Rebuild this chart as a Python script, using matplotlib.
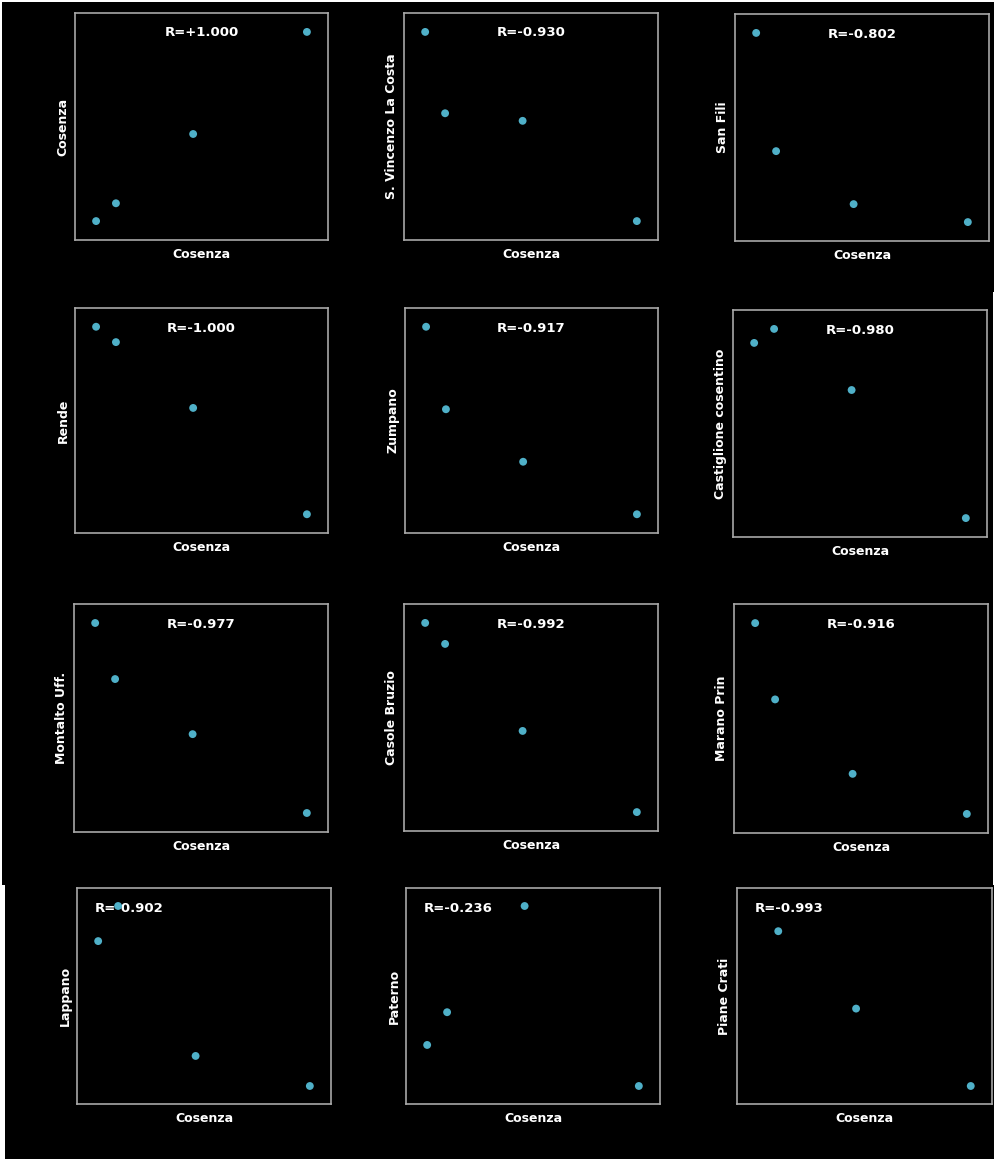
import numpy as np
import matplotlib
matplotlib.use("Agg")
import matplotlib.pyplot as plt
from matplotlib.patches import Rectangle

W, H = 995, 1159

# Cosenza resident population at four censuses (2011, 2001, 1991, 1981)
cosenza = [69484, 72998, 86664, 106801]

# Neighbouring towns: relative level at the same censuses (0 = lowest, 1 = highest)
s_vincenzo = [1.00, 0.57, 0.53, 0.00]
san_fili = [1.00, 0.375, 0.095, 0.00]
rende = [1.00, 0.918, 0.567, 0.00]
zumpano = [1.00, 0.56, 0.28, 0.00]
castiglione = [0.926, 1.00, 0.677, 0.00]
montalto = [1.00, 0.705, 0.415, 0.00]
casole = [1.00, 0.889, 0.429, 0.00]
marano = [1.00, 0.60, 0.21, 0.00]
lappano = [0.805, 1.00, 0.167, 0.00]
paterno = [0.228, 0.41, 1.00, 0.00]
piane_crati = [np.nan, 0.86, 0.43, 0.00]

cos_arr = np.array(cosenza, dtype=float)
cos_rel = (cos_arr - cos_arr.min()) / (cos_arr.max() - cos_arr.min())

names = ["Cosenza", "S. Vincenzo La Costa", "San Fili",
         "Rende", "Zumpano", "Castiglione cosentino",
         "Montalto Uff.", "Casole Bruzio", "Marano Prin",
         "Lappano", "Paterno", "Piane Crati"]
series = [cos_rel, s_vincenzo, san_fili,
          rende, zumpano, castiglione,
          montalto, casole, marano,
          lappano, paterno, piane_crati]
r_labels = ["R=+1.000", "R=-0.930", "R=-0.802",
            "R=-1.000", "R=-0.917", "R=-0.980",
            "R=-0.977", "R=-0.992", "R=-0.916",
            "R=-0.902", "R=-0.236", "R=-0.993"]

# panel frames in pixels: (left, right, top, bottom)
boxes = [(75, 328, 13, 240), (404, 658, 13, 240), (735, 989, 14, 241),
         (75, 328, 308, 533), (405, 658, 308, 533), (733, 987, 310, 537),
         (74, 328, 604, 832), (404, 658, 604, 831), (734, 988, 604, 833),
         (77, 331, 888, 1104), (406, 660, 888, 1104), (737, 992, 888, 1104)]

fig = plt.figure(figsize=(W / 100, H / 100), dpi=100, facecolor="black")

# thin light edges between the stacked strips
for (x, y, w, h) in [(0, 0, W, 2), (0, 0, 2, 885), (0, 885, 5, H - 885),
                     (993, 292, 2, 593)]:
    fig.patches.append(Rectangle((x / W, 1 - (y + h) / H), w / W, h / H,
                                 transform=fig.transFigure, facecolor="white",
                                 edgecolor="none", zorder=0))

xr = cos_arr.max() - cos_arr.min()
xlim = (cos_arr.min() - 0.1 * xr, cos_arr.max() + 0.1 * xr)

for i, (name, ys, lab, (l, r, t, b)) in enumerate(zip(names, series, r_labels, boxes)):
    ax = fig.add_axes([l / W, 1 - b / H, (r - l) / W, (b - t) / H])
    ax.set_facecolor("black")
    ax.scatter(cos_arr, ys, s=32, color="#4fb0c8", edgecolors="none", zorder=3)
    ax.set_xlim(*xlim)
    ax.set_ylim(-0.1, 1.1)
    ax.set_xticks([])
    ax.set_yticks([])
    for sp in ax.spines.values():
        sp.set_color("#a8a8a8")
        sp.set_linewidth(1.2)
    ax.set_xlabel("Cosenza", color="white", fontsize=9, fontweight="bold", labelpad=6)
    ax.set_ylabel(name, color="white", fontsize=9, fontweight="bold", labelpad=4)
    top_frac = 1 - 20 / (b - t)
    if i < 9:
        ax.text(0.5, top_frac, lab, transform=ax.transAxes, ha="center", va="center",
                color="white", fontsize=9.5, fontweight="bold", zorder=1)
    else:
        ax.text(18 / (r - l), top_frac, lab, transform=ax.transAxes, ha="left",
                va="center", color="white", fontsize=9.5, fontweight="bold", zorder=1)

fig.savefig("out.png", dpi=100, facecolor="black")
